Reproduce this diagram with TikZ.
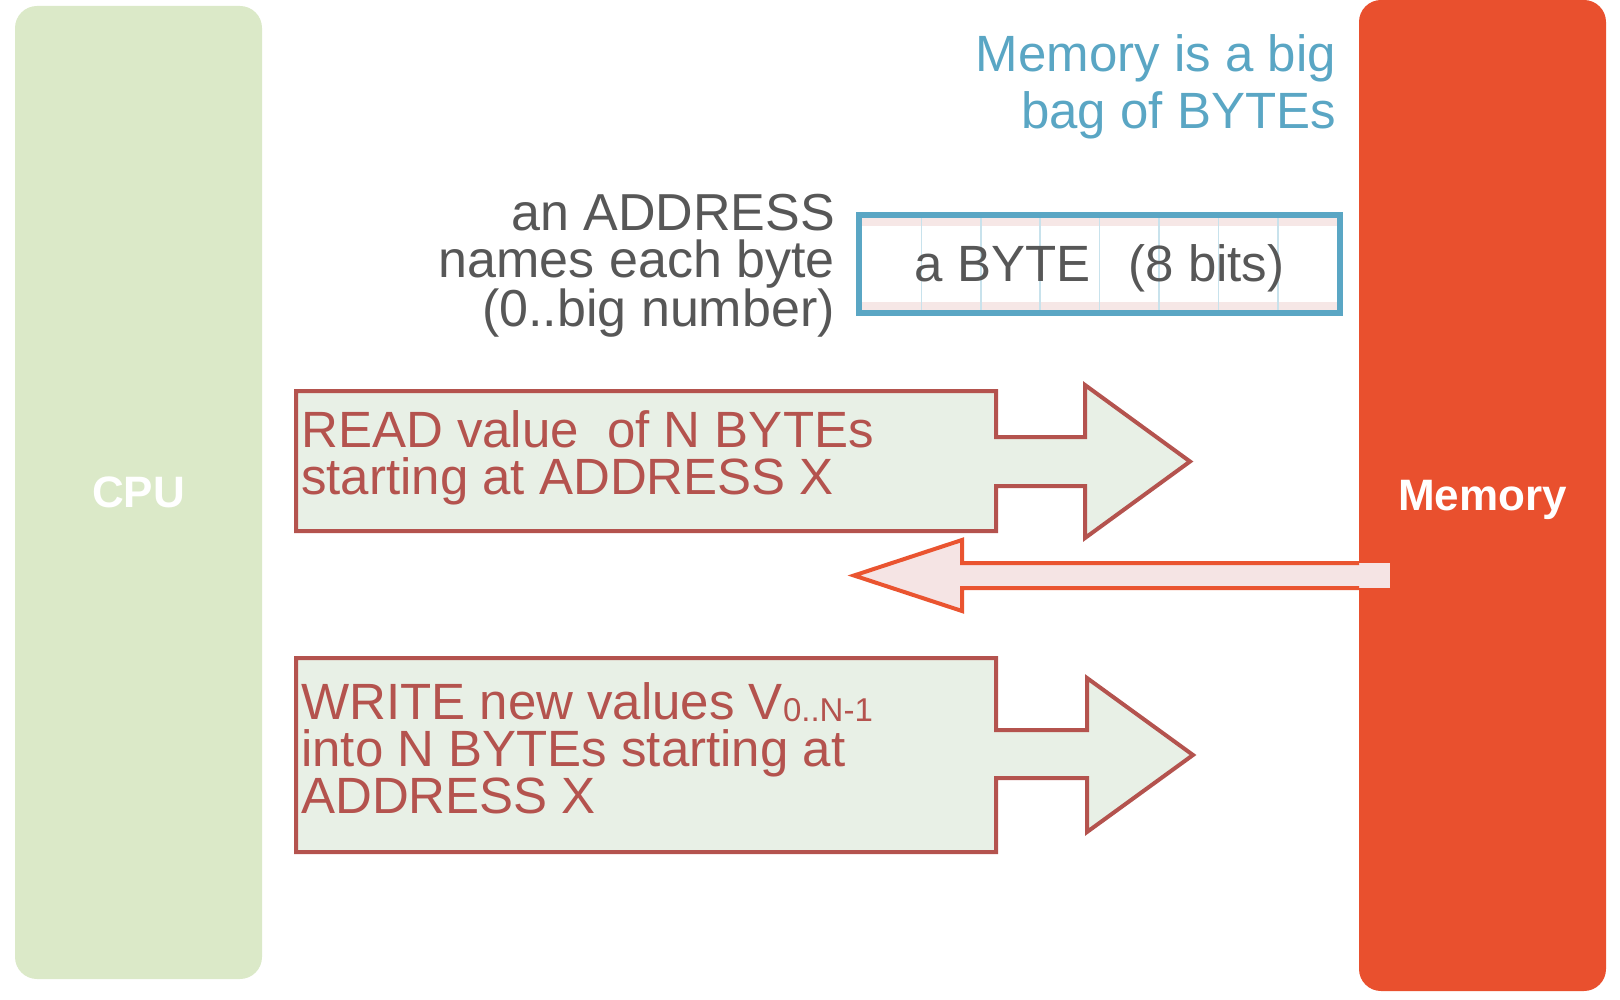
\documentclass[tikz,border=0pt]{standalone}
\usepackage{fontspec}
\setmainfont{Liberation Sans}
\definecolor{cpugreen}{HTML}{DBE9C8}
\definecolor{memred}{HTML}{E9502E}
\definecolor{boxred}{HTML}{B4534E}
\definecolor{boxfill}{HTML}{E8F0E6}
\definecolor{retred}{HTML}{EA5430}
\definecolor{retfill}{HTML}{F5E4E4}
\definecolor{bagblue}{HTML}{5AA6C4}
\definecolor{bytepink}{HTML}{F6E7E6}
\definecolor{cellblue}{HTML}{C8E2EC}
\definecolor{labelgray}{HTML}{575757}

\begin{document}
\begin{tikzpicture}[x=1pt,y=-1pt]


\tikzset{unitbar/.style={shape=rectangle, rounded corners=22, draw=none, minimum width=247, text=white, font=\fontsize{44}{44}\bfseries\selectfont, text depth=0pt}}
\tikzset{bagtext/.style={inner sep=0, align=right, text=bagblue, font=\fontsize{51}{57}\selectfont}}
\tikzset{addrtext/.style={inner sep=0, align=right, text=labelgray, font=\fontsize{52}{47}\selectfont}}
\tikzset{optext/.style={inner sep=0, align=left, anchor=north west, text=boxred, font=\fontsize{51}{47}\selectfont}}
\tikzset{bytebox/.style={shape=rectangle, draw=bagblue, line width=6, minimum width=481, minimum height=98, text height=36, text depth=0pt, text=labelgray, font=\fontsize{51}{51}\selectfont}}
\tikzset{cellline/.style={draw=cellblue, line width=1.5}}
\tikzset{blockarrow/.style={draw=boxred, fill=boxfill, line width=4}}
\tikzset{retarrow/.style={draw=retred, fill=retfill, line width=4}}
\useasboundingbox (0,0) rectangle (1620,1000);
\node[unitbar, fill=cpugreen, minimum height=973] (cpu) at (138.5,492.5) {CPU};
\node[unitbar, fill=memred, minimum height=991] (mem) at (1482.5,495.5) {Memory};
\node[bagtext, anchor=north east] (bag) at (1336,34) {Memory is a big\\bag of BYTEs};
\fill[white] (859,215) rectangle (1340,313);
\fill[bytepink] (862,218) rectangle (1337,226);
\fill[bytepink] (862,302) rectangle (1337,310);
\foreach \i in {1,...,7}
  \draw[cellline] (862+59.4*\i,218) -- (862+59.4*\i,310);
\node[bytebox] (byte) at (1099.5,264) {a BYTE\hspace{0.75em}(8 bits)};
\node[addrtext, anchor=north east] (addr) at (835,194) {an ADDRESS\\names each byte\\(0..big number)};
\draw[blockarrow] (296,391) -- (996,391) -- (996,437) -- (1085,437) -- (1085,385) -- (1190,461.5) -- (1085,538) -- (1085,486) -- (996,486) -- (996,531) -- (296,531) -- cycle;
\node[optext] (read) at (301,410.5) {READ value\ \ of N BYTEs\\starting at ADDRESS X};
\fill[retfill] (1359,563) rectangle (1390,588);
\draw[retarrow] (1359,563) -- (962,563) -- (962,540) -- (854,575.5) -- (962,611) -- (962,588) -- (1359,588);
\draw[blockarrow] (296,658) -- (996,658) -- (996,730) -- (1087,730) -- (1087,678) -- (1193,755) -- (1087,832) -- (1087,778) -- (996,778) -- (996,852) -- (296,852) -- cycle;
\node[optext] (write) at (301,682.5) {WRITE new values V{\fontsize{33}{33}\selectfont\raisebox{-2pt}{0..N-1}}\\into N BYTEs starting at\\ADDRESS X};

\end{tikzpicture}
\end{document}
